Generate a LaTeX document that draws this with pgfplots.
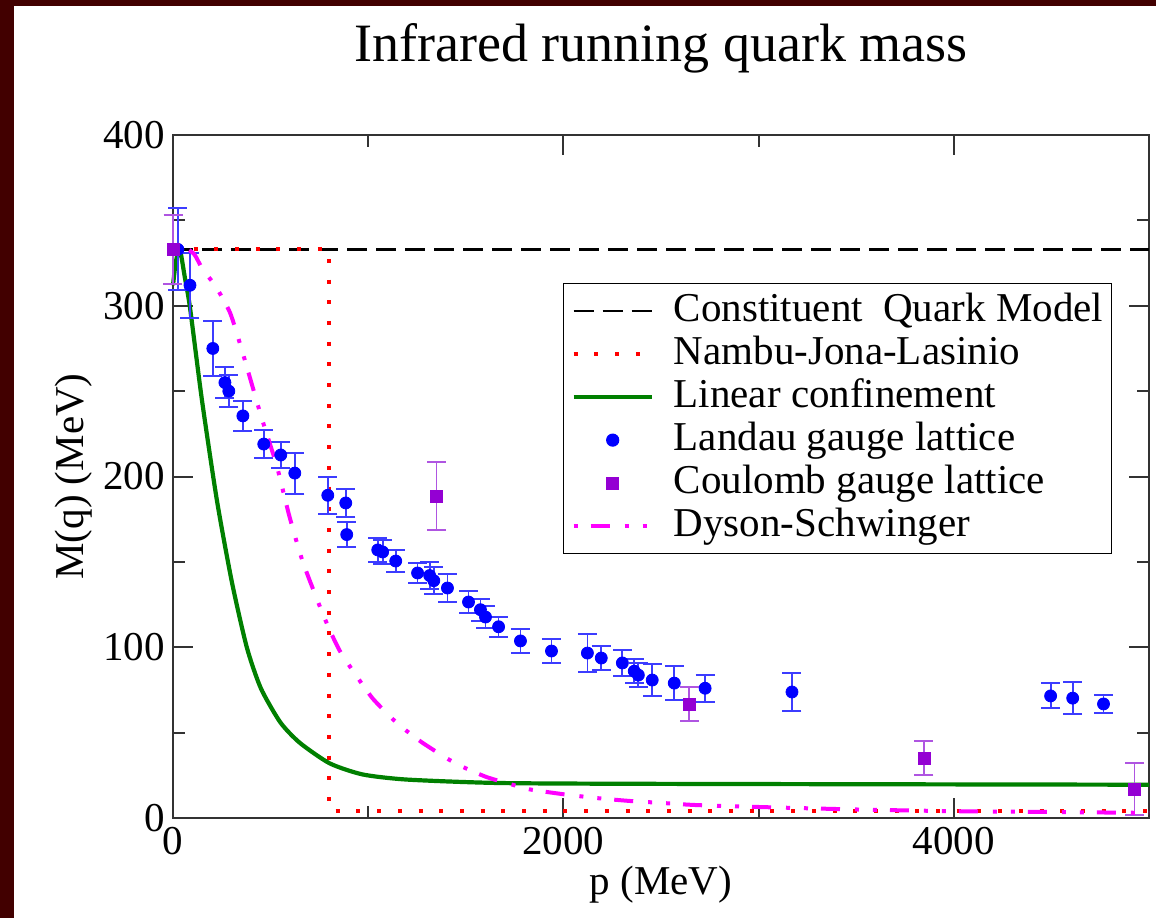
\documentclass[border=0pt]{standalone}
\usepackage{fontspec}
\setmainfont{Liberation Serif}
\usepackage{graphicx}
\usepackage{pgfplots}
\pgfplotsset{compat=1.18}
\usepackage{pgfplotstable}
\definecolor{maroonbg}{RGB}{66,0,0}
\definecolor{dviolet}{RGB}{148,0,211}
\definecolor{dvioletlight}{RGB}{175,85,225}
\definecolor{lgreen}{RGB}{0,128,0}
\definecolor{ebblue}{RGB}{60,60,255}
\definecolor{pmagenta}{RGB}{255,0,255}
\definecolor{pred}{RGB}{255,0,0}
\definecolor{pblue}{RGB}{0,0,255}

\pgfplotstableread{
p M e
25 333 24
87 312 19
204 275 16
266 255 9
286 250 9.5
358 235.5 9
465 219 8
552 212.6 7.5
624 202 12
793 189 11
885 184.5 8
890 166 7.5
1049 157 7
1074 155.8 7
1141 150.5 6.5
1253 143.5 6
1315 142 8
1336 139 8
1406 134.7 8
1514 126.5 6.5
1575 122 6.5
1601 117.7 6.5
1668 112 6
1780 103.7 7
1939 97.8 7
2123 96.6 11
2194 93.7 7
2302 90.8 7.5
2363 86 7
2384 83.7 7
2455 80.8 9.5
2568 79 10
2726 76 8
3171 73.8 11
4496 71.5 7.3
4609 70.2 9.5
4767 66.8 5.5
}\landau

\pgfplotstableread{
p M e
0 333 20
1350 188.6 20
2645 66.8 10
3847 35 10
4926 17 15
}\coulomb

\pgfplotstableread{
p M
0 312
15 326
35 333
60 317
87 299
148 245
225 186
302 138
378 100
450 76
550 56
650 44
803 32
972 25.5
1200 22.5
1673 20.5
2500 20
5000 19.5
}\linear

\pgfplotstableread{
p M
0 333
60 334
110 330
153 321
215 312
292 296
353 274
409 252
455 234
532 206
598 176
665 150
752 124
803 110
854 98
905 89
947 82
1023 70
1125 58
1197 51
1279 44
1402 35
1483 30
1606 24
1739 19.5
1826 16.8
1995 14
2169 11.7
2338 10
2508 8.8
2678 7.6
3018 6.4
3500 5
4000 4
4500 3.5
5000 3
}\dyson

\begin{document}
\begin{tikzpicture}
\path[use as bounding box, fill=white] (-86.5pt,-50pt) rectangle (491.5pt,409pt);
\fill[maroonbg] (-86.5pt,-50pt) rectangle (-79.5pt,409pt);
\fill[maroonbg] (-86.5pt,406pt) rectangle (491.5pt,409pt);
\begin{axis}[
  at={(0pt,0pt)}, anchor=south west,
  scale only axis, width=488pt, height=341.5pt,
  xmin=0, xmax=5000, ymin=0, ymax=400,
  clip=false,
  xtick={0,2000,4000}, minor xtick={1000,3000},
  ytick={0,100,200,300,400}, minor ytick={50,150,250,350},
  tick align=inside, xtick pos=both, ytick pos=both,
  major tick length=10pt, minor tick length=6pt,
  tick style={line width=1pt, black!80},
  axis line style={line width=1pt, black!80},
  scaled ticks=false,
  /pgf/number format/assume math mode=true,
  /pgf/number format/1000 sep={},
  tick label style={font=\fontsize{20.5}{24}\selectfont},
  xticklabel style={inner sep=0pt, yshift=-4.5pt},
  yticklabel style={inner sep=0pt, xshift=-4pt},
  xlabel={p (MeV)}, ylabel={M(q) (MeV)},
  label style={font=\fontsize{20.5}{24}\selectfont},
  xlabel style={at={(axis description cs:0.5,-0.0981)}, anchor=center},
  ylabel style={at={(axis description cs:-0.1014,0.5)}, anchor=center},
  legend image code/.code={\draw[mark repeat=2,mark phase=2,#1] plot coordinates {(0pt,0pt) (19.5pt,0pt) (39pt,0pt)};},
  legend cell align=left,
  legend style={at={(axis description cs:0.3996,0.7833)}, anchor=north west,
    draw=black, line width=0.6pt, fill=white,
    font=\fontsize{20.5}{24}\selectfont,
    inner xsep=4pt, inner ysep=3pt,
    nodes={inner xsep=0pt, inner ysep=0.75pt, text height=15pt, text depth=5pt},
    /tikz/every odd column/.append style={column sep=10pt}},
]
\addplot[black, line width=1.3pt, dash pattern=on 10pt off 4.5pt] coordinates {(0,333) (5000,333)};
\addlegendentry{Constituent\ \ Quark Model}
\addplot[pred, line width=2pt, dash pattern=on 2pt off 8.35pt] coordinates {(0,333) (800,333) (800,4) (5000,4)};
\addlegendentry{Nambu-Jona-Lasinio}
\addplot[lgreen, line width=2.1pt, smooth, tension=0.4] table[x=p, y=M] {\linear};
\addlegendentry{Linear confinement}
\addplot[only marks, mark=*, mark size=3pt, color=pblue, fill=pblue,
  error bars/.cd, y dir=both, y explicit,
  error bar style={line width=0.9pt, color=ebblue},
  error mark options={rotate=90, mark size=4.75pt, line width=1pt, color=ebblue}]
  table[x=p, y=M, y error=e] {\landau};
\addlegendentry{Landau gauge lattice}
\addplot[only marks, mark=square*, mark size=3pt, color=dviolet, fill=dviolet,
  error bars/.cd, y dir=both, y explicit,
  error bar style={line width=0.9pt, color=dvioletlight},
  error mark options={rotate=90, mark size=4.75pt, line width=1pt, color=dvioletlight}]
  table[x=p, y=M, y error=e] {\coulomb};
\addlegendentry{Coulomb gauge lattice}
\addplot[pmagenta, line width=2pt, smooth, tension=0.4, dash pattern=on 2pt off 6.5pt on 9.5pt off 7.5pt on 2pt off 7pt] table[x=p, y=M] {\dyson};
\addlegendentry{Dyson-Schwinger}
\end{axis}
\node[anchor=base, font=\fontsize{27}{32}\selectfont] at (244pt,378pt) {Infrared running quark mass};
\end{tikzpicture}
\end{document}
